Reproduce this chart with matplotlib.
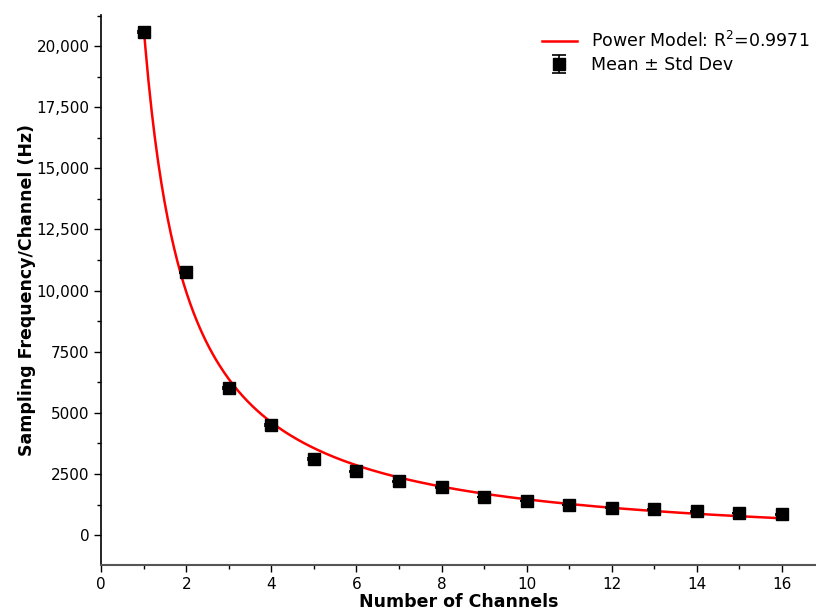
"""
Sampling frequency per channel vs number of channels, with power model fit
"""
import numpy as np
import matplotlib
matplotlib.use('Agg')
import matplotlib.pyplot as plt
from matplotlib.ticker import FuncFormatter, MultipleLocator

channels = np.arange(1, 17)
freq_mean = [20560, 10745, 6010, 4500, 3110, 2620, 2210, 1950,
             1555, 1390, 1230, 1120, 1050, 970, 900, 850]
freq_std = [40, 30, 30, 25, 25, 20, 20, 20,
            15, 15, 15, 15, 15, 15, 15, 15]

# Power model parameters: f(n) = a * n**b + c
model_a = 21323.0
model_b = -1.02
model_c = -573.0
model_r2 = 0.9971

fig = plt.figure(figsize=(8.16, 6.13), dpi=100)
ax = fig.add_axes([0.124, 0.078, 0.876, 0.8975])

n_fit = np.linspace(1, 16, 400)
f_fit = model_a * n_fit ** model_b + model_c
ax.plot(n_fit, f_fit, color='red', lw=1.8,
        label=f"Power Model: R$^2$={model_r2}")

ax.errorbar(channels, freq_mean, yerr=freq_std, fmt='s', color='black',
            markersize=8.5, capsize=5, elinewidth=1.2, capthick=1.2,
            label='Mean ± Std Dev')

ax.set_xlim(0, 16.8)
ax.set_ylim(-1230, 21270)

ax.xaxis.set_major_locator(MultipleLocator(2))
ax.xaxis.set_minor_locator(MultipleLocator(1))
ax.yaxis.set_major_locator(MultipleLocator(2500))
ax.yaxis.set_minor_locator(MultipleLocator(1250))


def fmt_y(v, pos):
    if abs(v) >= 10000:
        return f"{v:,.0f}"
    return f"{v:.0f}"


ax.yaxis.set_major_formatter(FuncFormatter(fmt_y))
ax.tick_params(axis='both', which='major', labelsize=11, length=5, width=1)
ax.tick_params(axis='both', which='minor', length=3, width=1)

for side in ['top', 'right']:
    ax.spines[side].set_visible(False)
ax.spines['bottom'].set_color('#555555')
ax.spines['bottom'].set_linewidth(1.5)
ax.spines['left'].set_linewidth(1.2)

ax.set_xlabel('Number of Channels', fontsize=12.5, fontweight='bold', labelpad=1)
ax.set_ylabel('Sampling Frequency/Channel (Hz)', fontsize=12.5,
              fontweight='bold', labelpad=0)

ax.legend(loc='upper right', frameon=False, fontsize=12.5,
          bbox_to_anchor=(1.012, 1.0), handlelength=2.0, labelspacing=0.3)

plt.savefig('out.png', dpi=100)
plt.close()
